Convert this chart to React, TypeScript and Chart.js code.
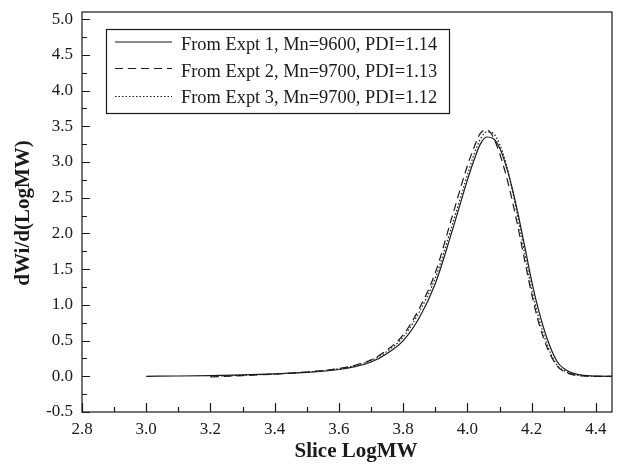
import React, { useEffect, useRef } from "react";
import { Chart, registerables } from "chart.js";

Chart.register(...registerables);

const X_GRID = [3.0, 3.1, 3.2, 3.3, 3.4, 3.5, 3.6, 3.65, 3.7, 3.75, 3.8, 3.85, 3.9, 3.95, 4.0, 4.02, 4.04, 4.06, 4.08, 4.1, 4.12, 4.14, 4.16, 4.18, 4.2, 4.22, 4.25, 4.28, 4.3, 4.33, 4.36, 4.4, 4.45];

const EXPT1 = [0.0, 0.004, 0.01, 0.02, 0.035, 0.055, 0.095, 0.135, 0.2, 0.32, 0.5, 0.82, 1.3, 2.0, 2.75, 3.02, 3.25, 3.35, 3.33, 3.2, 2.95, 2.62, 2.22, 1.78, 1.33, 0.95, 0.5, 0.2, 0.11, 0.04, 0.012, 0.003, 0.0];
const EXPT2 = [null, null, -0.01, 0.01, 0.03, 0.06, 0.11, 0.155, 0.23, 0.37, 0.58, 0.95, 1.45, 2.2, 2.95, 3.2, 3.4, 3.45, 3.35, 3.12, 2.82, 2.45, 2.03, 1.58, 1.15, 0.78, 0.38, 0.14, 0.07, 0.02, 0.005, 0.0, 0.0];
const EXPT3 = [null, null, 0.0, 0.015, 0.032, 0.06, 0.105, 0.15, 0.22, 0.35, 0.55, 0.9, 1.38, 2.08, 2.82, 3.1, 3.32, 3.42, 3.4, 3.25, 2.98, 2.6, 2.15, 1.68, 1.22, 0.85, 0.42, 0.15, 0.08, 0.025, 0.007, 0.0, 0.0];

const LABELS = [
  "From Expt 1, Mn=9600, PDI=1.14",
  "From Expt 2, Mn=9700, PDI=1.13",
  "From Expt 3, Mn=9700, PDI=1.12",
];
const X_TITLE = "Slice LogMW";
const Y_TITLE = "dWi/d(LogMW)";
const DASHES: number[][] = [[], [8, 5], [1.5, 2]];

const X_TICKS = [2.8, 3.0, 3.2, 3.4, 3.6, 3.8, 4.0, 4.2, 4.4];
const X_MINOR = [2.9, 3.1, 3.3, 3.5, 3.7, 3.9, 4.1, 4.3];
const Y_TICKS = [-0.5, 0.0, 0.5, 1.0, 1.5, 2.0, 2.5, 3.0, 3.5, 4.0, 4.5, 5.0];
const Y_MINOR = [-0.25, 0.25, 0.75, 1.25, 1.75, 2.25, 2.75, 3.25, 3.75, 4.25, 4.75];

const FONT = "'Liberation Serif', 'Times New Roman', serif";
const INK = "#1a1a1a";

function toPoints(ys: (number | null)[]) {
  const pts: { x: number; y: number }[] = [];
  ys.forEach((y, i) => {
    if (y !== null) pts.push({ x: X_GRID[i], y });
  });
  return pts;
}

const framePlugin = {
  id: "frameTicks",
  afterDraw(chart: any) {
    const { ctx, chartArea: a, scales } = chart;
    const xs = scales.x;
    const ys = scales.y;
    ctx.save();
    ctx.strokeStyle = INK;
    ctx.lineWidth = 1.2;
    ctx.setLineDash([]);
    ctx.strokeRect(a.left, a.top, a.right - a.left, a.bottom - a.top);
    ctx.beginPath();
    X_TICKS.forEach((v) => {
      const px = Math.round(xs.getPixelForValue(v)) + 0.5;
      ctx.moveTo(px, a.bottom);
      ctx.lineTo(px, a.bottom - 9);
    });
    X_MINOR.forEach((v) => {
      const px = Math.round(xs.getPixelForValue(v)) + 0.5;
      ctx.moveTo(px, a.bottom);
      ctx.lineTo(px, a.bottom - 5);
    });
    Y_TICKS.forEach((v) => {
      const py = Math.round(ys.getPixelForValue(v)) + 0.5;
      ctx.moveTo(a.left, py);
      ctx.lineTo(a.left + 8, py);
    });
    Y_MINOR.forEach((v) => {
      const py = Math.round(ys.getPixelForValue(v)) + 0.5;
      ctx.moveTo(a.left, py);
      ctx.lineTo(a.left + 5, py);
    });
    ctx.stroke();

    // axis titles
    ctx.fillStyle = INK;
    ctx.font = `bold 21px ${FONT}`;
    ctx.textAlign = "center";
    ctx.textBaseline = "middle";
    ctx.fillText(X_TITLE, 356, 452);
    ctx.save();
    ctx.translate(24, 213);
    ctx.rotate(-Math.PI / 2);
    ctx.fillText(Y_TITLE, 0, 0);
    ctx.restore();

    // legend box
    const bx = 106, by = 29, bw = 343, bh = 84;
    ctx.fillStyle = "#ffffff";
    ctx.fillRect(bx, by, bw, bh);
    ctx.lineWidth = 1.2;
    ctx.strokeRect(bx + 0.5, by + 0.5, bw, bh);
    const rows = [42, 68.5, 96.5];
    const bases = [50, 76.5, 103];
    ctx.font = `18.4px ${FONT}`;
    ctx.textBaseline = "alphabetic";
    ctx.textAlign = "left";
    chart.data.datasets.forEach((ds: any, i: number) => {
      ctx.beginPath();
      ctx.setLineDash(DASHES[i]);
      ctx.lineWidth = 1.2;
      ctx.moveTo(115, rows[i]);
      ctx.lineTo(172, rows[i]);
      ctx.stroke();
      ctx.setLineDash([]);
      ctx.fillStyle = INK;
      ctx.fillText(ds.label, 181, bases[i]);
    });
    ctx.restore();
  },
};

export default function App() {
  const ref = useRef<HTMLCanvasElement | null>(null);
  useEffect(() => {
    document.body.style.margin = "0";
    const canvas = ref.current!;
    const series = [EXPT1, EXPT2, EXPT3];
    const chart = new Chart(canvas, {
      type: "line",
      data: {
        datasets: series.map((s, i) => ({
          label: LABELS[i],
          data: toPoints(s),
          borderColor: INK,
          borderWidth: 1.2,
          borderDash: DASHES[i],
          pointRadius: 0,
          fill: false,
          cubicInterpolationMode: "monotone" as const,
        })),
      },
      options: {
        responsive: false,
        animation: false,
        maintainAspectRatio: false,
        layout: { padding: { top: 12, right: 9, left: 0, bottom: 0 } },
        plugins: { legend: { display: false }, tooltip: { enabled: false } },
        scales: {
          x: {
            type: "linear",
            min: 2.8,
            max: 4.45,
            grid: { display: false, drawTicks: false },
            border: { display: false },
            afterBuildTicks: (scale: any) => {
              scale.ticks = X_TICKS.map((v) => ({ value: v }));
            },
            afterFit: (scale: any) => {
              scale.height = 55;
              scale.paddingLeft = 0;
              scale.paddingRight = 0;
            },
            ticks: {
              color: INK,
              font: { family: FONT, size: 17 },
              padding: 7,
              maxRotation: 0,
              autoSkip: false,
              callback: (v: any) => Number(v).toFixed(1),
            },
          },
          y: {
            type: "linear",
            min: -0.5,
            max: 5.1,
            grid: { display: false, drawTicks: false },
            border: { display: false },
            afterBuildTicks: (scale: any) => {
              scale.ticks = Y_TICKS.map((v) => ({ value: v }));
            },
            afterFit: (scale: any) => {
              scale.width = 82;
              scale.paddingTop = 0;
              scale.paddingBottom = 0;
            },
            ticks: {
              color: INK,
              font: { family: FONT, size: 17 },
              padding: 9,
              autoSkip: false,
              callback: (v: any) => Number(v).toFixed(1),
            },
          },
        },
      },
      plugins: [framePlugin],
    });
    return () => chart.destroy();
  }, []);
  return (
    <div style={{ position: "absolute", left: 0, top: 0, width: 621, height: 467, background: "#fff" }}>
      <canvas ref={ref} width={621} height={467} style={{ display: "block" }} />
    </div>
  );
}
